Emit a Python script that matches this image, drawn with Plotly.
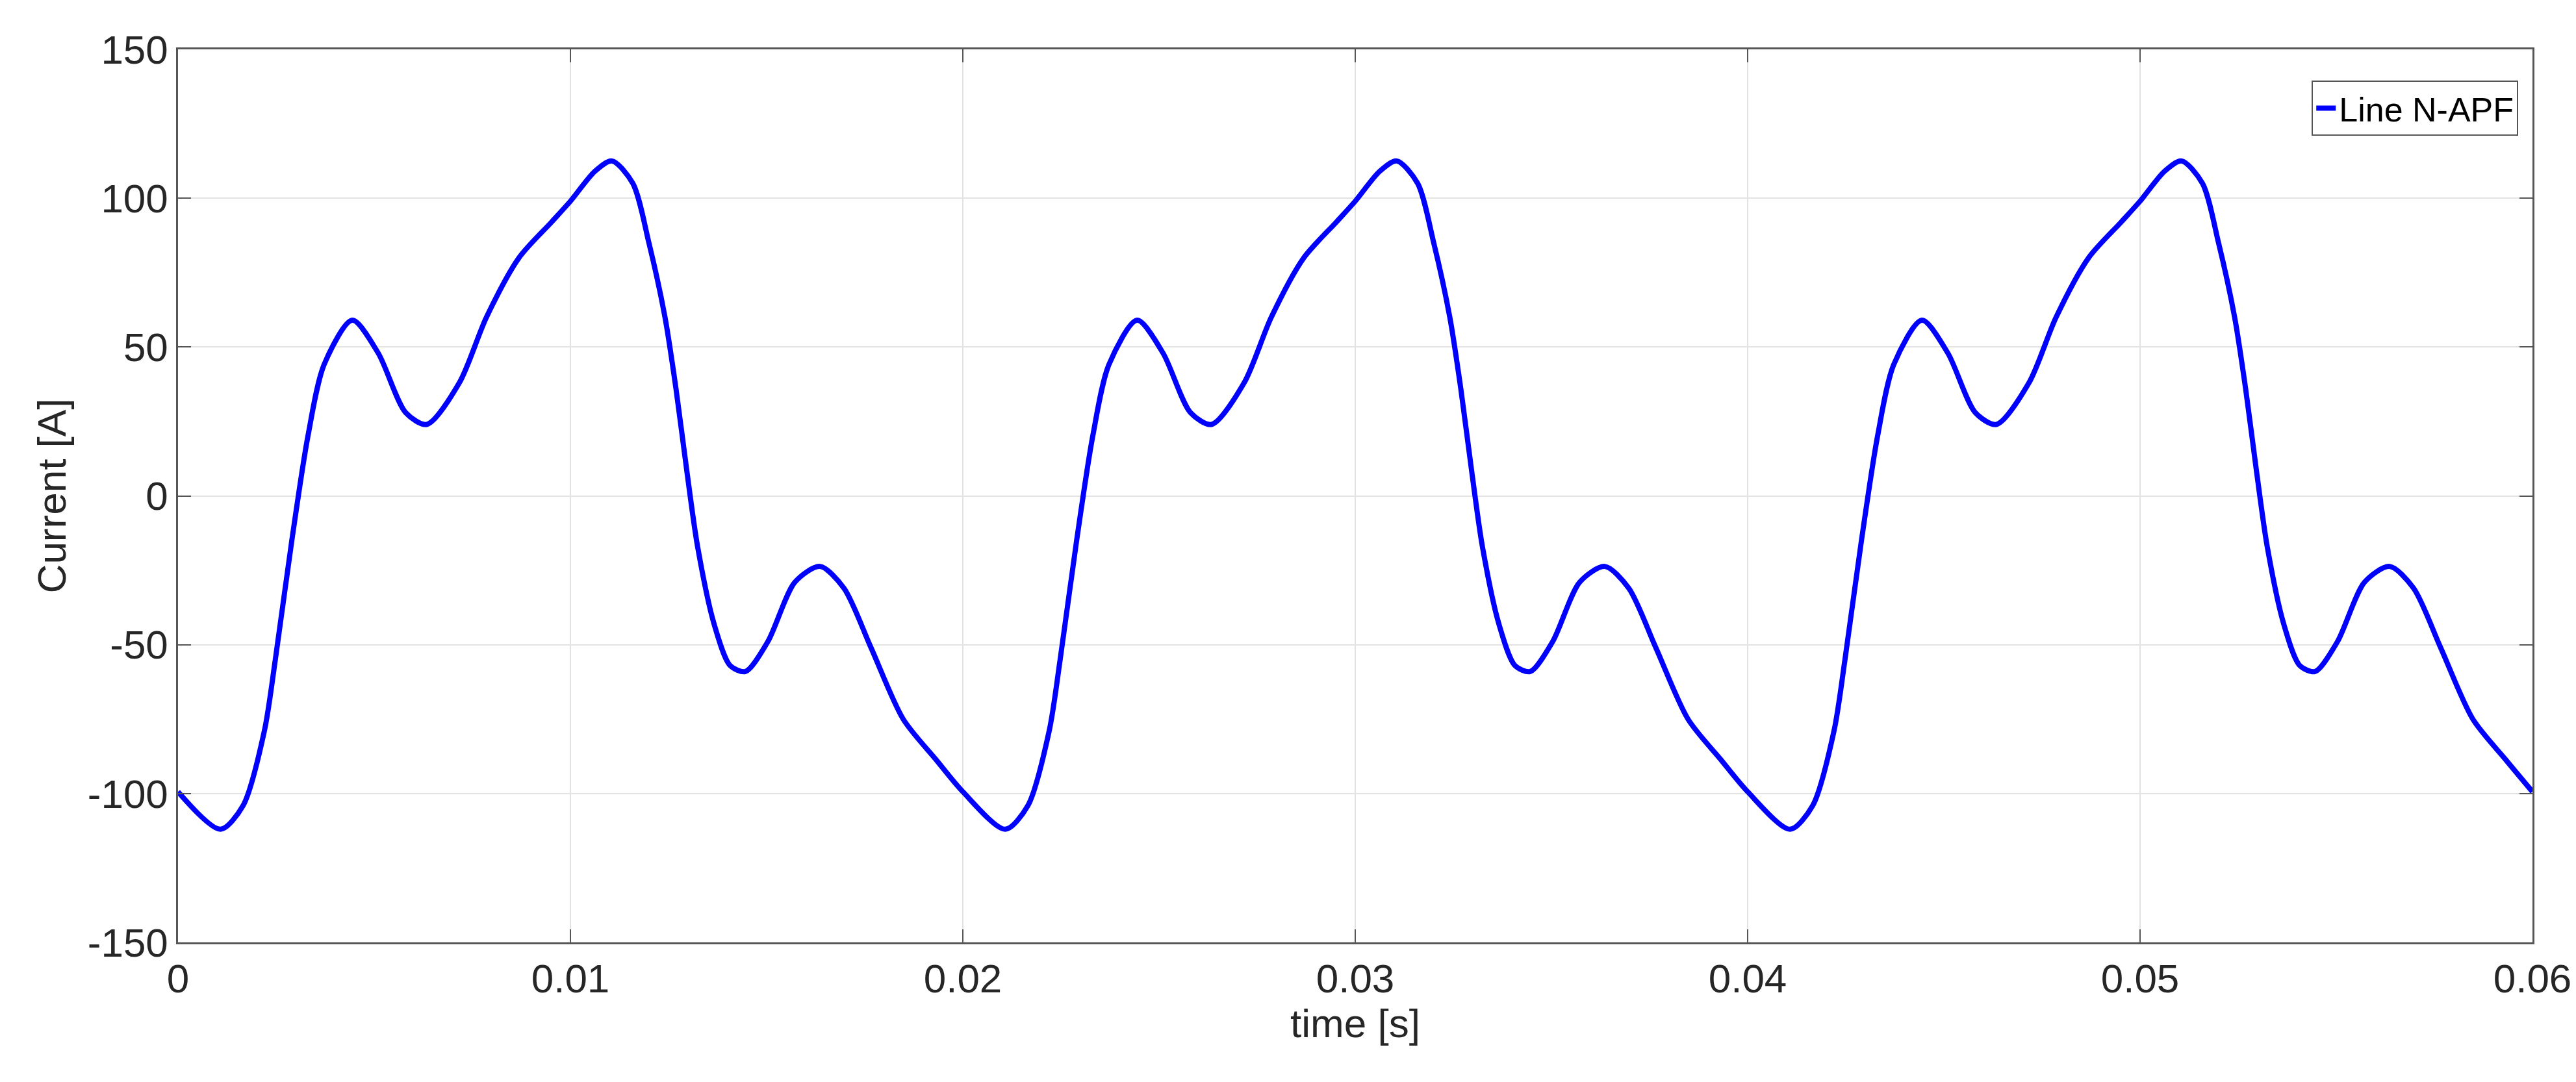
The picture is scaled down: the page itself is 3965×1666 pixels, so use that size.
import plotly.graph_objects as go

# one fundamental period (0.02 s)
period_t = [0.0, 0.00108, 0.00166, 0.0022, 0.00248, 0.0029, 0.00331, 0.00372, 0.00444, 0.0051,
            0.0058, 0.00634, 0.00717, 0.00786, 0.00869, 0.00952, 0.01, 0.01062, 0.01106, 0.01159,
            0.012, 0.01241, 0.01269, 0.01297, 0.01324, 0.01366, 0.01407, 0.01446, 0.01503, 0.01572,
            0.01636, 0.01697, 0.01766, 0.01848, 0.01931]
period_i = [-99.4, -112, -104, -79, -55, -15, 20, 44, 59, 48,
            28, 24, 38, 60, 80, 92, 99, 109, 112.5, 105,
            85, 60, 36, 8, -17, -43, -57, -59, -49, -29,
            -23.7, -31, -51, -75, -88.5]
periods = [0.0, 0.02, 0.04]
end_point = (0.06, -99.4)

x_ticks = [0, 0.01, 0.02, 0.03, 0.04, 0.05, 0.06]
x_labels = ["0", "0.01", "0.02", "0.03", "0.04", "0.05", "0.06"]
y_ticks = [-150, -100, -50, 0, 50, 100, 150]
y_labels = ["-150", "-100", "-50", "0", "50", "100", "150"]

t, cur = [], []
for p in periods:
    t += [p + v for v in period_t]
    cur += period_i
t.append(end_point[0]); cur.append(end_point[1])

fig = go.Figure(go.Scatter(x=t, y=cur, mode="lines", name="Line N-APF",
                           line=dict(color="#0000FF", width=8, shape="spline", smoothing=0.8)))

ax = dict(showline=True, linecolor="#555555", linewidth=2.5, mirror="ticks",
          ticks="inside", ticklen=20, tickwidth=2, tickcolor="#555555",
          showgrid=True, gridcolor="#E3E3E3", gridwidth=2, zeroline=False,
          tickfont=dict(family="Liberation Sans", size=62, color="#262626"),
          title_font=dict(family="Liberation Sans", size=62, color="#262626"))
fig.update_xaxes(**ax, range=[0, 0.06], tickvals=x_ticks, ticktext=x_labels,
                 title_text="time [s]", title_standoff=8)
fig.update_yaxes(**ax, range=[-150, 150], tickvals=y_ticks, ticktext=y_labels,
                 title_text="Current [A]", title_standoff=14)
fig.update_layout(width=3965, height=1666, plot_bgcolor="white", paper_bgcolor="white",
                  margin=dict(l=266, r=75, t=68, b=223),
                  showlegend=True,
                  legend=dict(x=0.994, y=0.965, xanchor="right", yanchor="top",
                              bordercolor="#555555", borderwidth=2, bgcolor="white",
                              font=dict(family="Liberation Sans", size=52, color="black")))
fig.write_html("out.html")
